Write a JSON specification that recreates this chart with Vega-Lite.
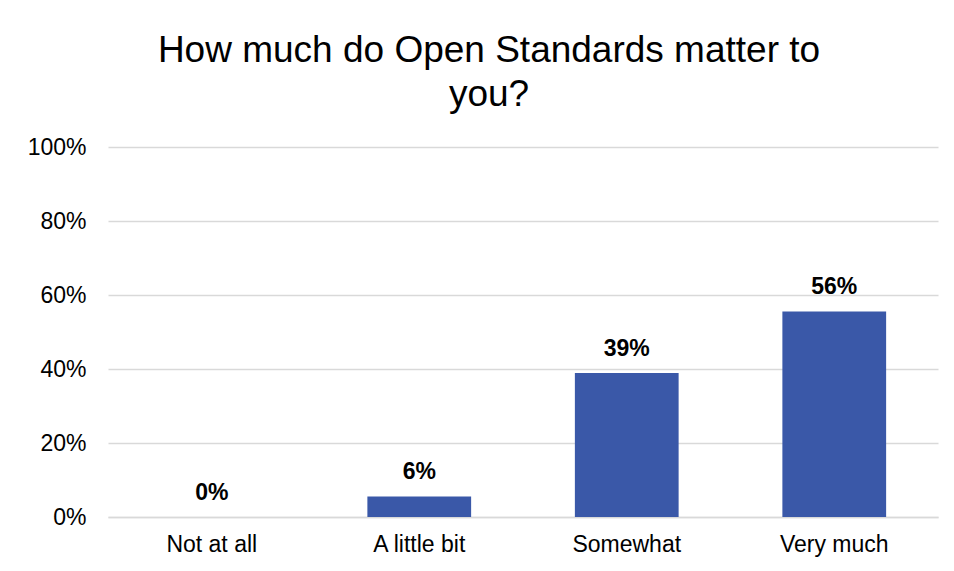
{
  "$schema": "https://vega.github.io/schema/vega-lite/v6.json",
  "autosize": "none",
  "width": 830,
  "height": 370,
  "padding": {"left": 108, "top": 147, "right": 16, "bottom": 54},
  "background": "white",
  "config": {
    "font": "Liberation Sans",
    "view": {"stroke": null}
  },
  "title": {
    "text": ["How much do Open Standards matter to", "you?"],
    "fontSize": 37,
    "fontWeight": "normal",
    "font": "Liberation Sans",
    "color": "#000000",
    "anchor": "middle",
    "frame": "group",
    "dx": -34,
    "lineHeight": 44,
    "offset": 22
  },
  "data": {
    "values": [
      {"category": "Not at all", "share": 0},
      {"category": "A little bit", "share": 0.0556},
      {"category": "Somewhat", "share": 0.3889},
      {"category": "Very much", "share": 0.5556}
    ]
  },
  "encoding": {
    "x": {
      "field": "category",
      "type": "nominal",
      "sort": null,
      "scale": {"paddingInner": 0.5, "paddingOuter": 0.25},
      "axis": {
        "title": null,
        "labelAngle": 0,
        "labelFontSize": 23,
        "labelColor": "#000000",
        "labelPadding": 16,
        "ticks": false,
        "domainColor": "#d9d9d9",
        "domainWidth": 1.5
      }
    },
    "y": {
      "field": "share",
      "type": "quantitative",
      "scale": {"domain": [0, 1]},
      "axis": {
        "title": null,
        "format": ".0%",
        "values": [0, 0.2, 0.4, 0.6, 0.8, 1],
        "labelFontSize": 23,
        "labelColor": "#000000",
        "labelPadding": 22,
        "ticks": false,
        "domain": false,
        "gridColor": "#d9d9d9",
        "gridWidth": 1.5
      }
    }
  },
  "layer": [
    {"mark": {"type": "bar", "color": "#3A58A8"}},
    {
      "mark": {"type": "text", "fontSize": 23, "fontWeight": "bold", "color": "#000000", "baseline": "alphabetic", "dy": -17},
      "encoding": {"text": {"field": "share", "type": "quantitative", "format": ".0%"}}
    }
  ]
}
